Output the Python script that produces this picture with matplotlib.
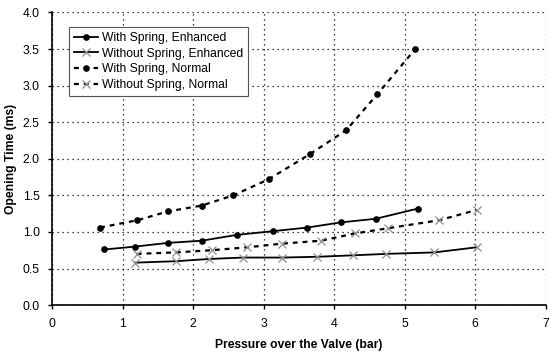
import matplotlib
matplotlib.use("Agg")
import matplotlib.pyplot as plt

plt.rcParams["font.family"] = ["Liberation Sans", "DejaVu Sans"]

ws_enh_x = [0.74, 1.18, 1.64, 2.12, 2.62, 3.13, 3.62, 4.09, 4.59, 5.19]
ws_enh_y = [0.76, 0.80, 0.85, 0.88, 0.96, 1.01, 1.06, 1.13, 1.18, 1.32]

wo_enh_x = [1.18, 1.76, 2.22, 2.71, 3.26, 3.75, 4.26, 4.74, 5.42, 6.02]
wo_enh_y = [0.58, 0.60, 0.63, 0.65, 0.65, 0.66, 0.68, 0.70, 0.72, 0.79]

ws_nor_x = [0.68, 1.21, 1.64, 2.12, 2.57, 3.07, 3.65, 4.17, 4.61, 5.15]
ws_nor_y = [1.06, 1.16, 1.28, 1.36, 1.50, 1.72, 2.06, 2.39, 2.88, 3.50]

wo_nor_x = [1.20, 1.75, 2.26, 2.77, 3.26, 3.81, 4.30, 4.76, 5.49, 6.02]
wo_nor_y = [0.70, 0.72, 0.75, 0.79, 0.84, 0.88, 0.98, 1.05, 1.16, 1.30]

FS = 8.7

fig = plt.figure(figsize=(5.49, 3.56), dpi=100)
ax = fig.add_axes([0.095, 0.143, 0.899, 0.822])

dotted = (0, (2.2, 2.2))
ax.plot(ws_enh_x, ws_enh_y, color="black", lw=1.3, marker="o", ms=3.8,
        label="With Spring, Enhanced")
ax.plot(wo_enh_x, wo_enh_y, color="black", lw=1.3, marker="x", ms=6,
        mec="#909090", mew=0.9, label="Without Spring, Enhanced")
ax.plot(ws_nor_x, ws_nor_y, color="black", lw=1.6, ls=dotted, marker="o",
        ms=3.8, label="With Spring, Normal")
ax.plot(wo_nor_x, wo_nor_y, color="black", lw=1.6, ls=dotted, marker="x",
        ms=6, mec="#909090", mew=0.9, label="Without Spring, Normal")

ax.set_xlim(0, 7)
ax.set_ylim(0, 4)
ax.set_xticks(range(0, 8))
ax.set_yticks([i * 0.5 for i in range(9)])
ax.set_yticklabels([f"{i * 0.5:.1f}" for i in range(9)])
ax.grid(True, color="black", ls=(0, (1, 3)), lw=0.9)
ax.set_axisbelow(True)

for s in ("top", "right"):
    ax.spines[s].set_visible(False)
for s in ("left", "bottom"):
    ax.spines[s].set_linewidth(1.2)
ax.tick_params(labelsize=FS, length=3, width=1.0, pad=6)

ax.set_xlabel("Pressure over the Valve (bar)", fontsize=FS, fontweight="bold",
              labelpad=7)
ax.set_ylabel("Opening Time (ms)", fontsize=FS, fontweight="bold", labelpad=4)

leg = ax.legend(loc="upper left", bbox_to_anchor=(0.035, 0.95), fontsize=FS,
                handlelength=2.0, handletextpad=0.3, borderpad=0.4,
                labelspacing=0.3, fancybox=False, framealpha=1,
                edgecolor="#555555", borderaxespad=0)
leg.get_frame().set_linewidth(0.8)

fig.savefig("out.png", dpi=100)
